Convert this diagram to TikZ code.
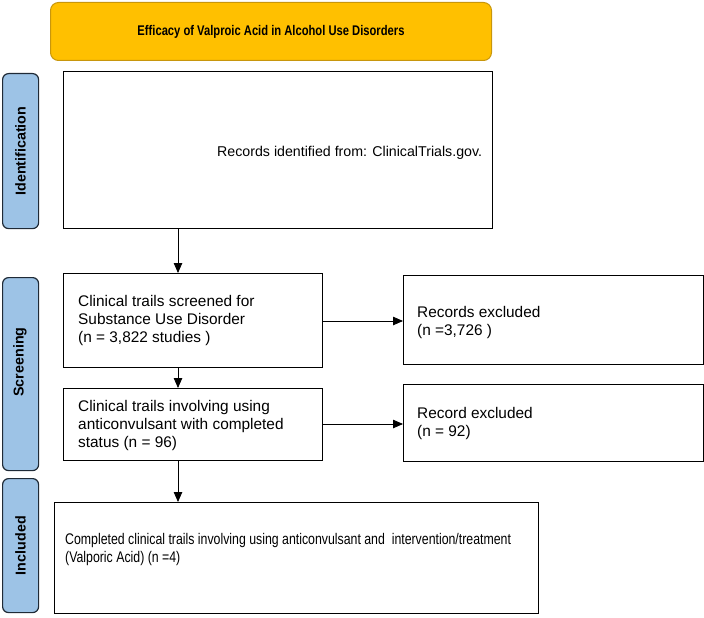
\documentclass[tikz,border=0pt]{standalone}
\usepackage{fontspec}
\setmainfont{Liberation Sans}
\newfontfamily\narrowfont[FakeStretch=0.8]{Liberation Sans}
\usetikzlibrary{arrows.meta,positioning}
\definecolor{titlefill}{HTML}{FFC000}
\definecolor{titledraw}{HTML}{C8960C}
\definecolor{sidefill}{HTML}{9DC3E6}
\definecolor{sidedraw}{HTML}{1F2A36}
\tikzset{
  box/.style={draw=black, line width=1.2pt, anchor=north west, inner sep=0pt},
  side/.style={draw=sidedraw, fill=sidefill, line width=1.2pt, rounded corners=6pt, anchor=north west, inner sep=0pt},
  sidetxt/.style={font=\bfseries\fontsize{14.3}{16}\selectfont, rotate=90},
  txt/.style={anchor=west, align=left, inner sep=0pt, font=\fontsize{15.4}{18}\selectfont},
  arr/.style={-{Triangle[length=10pt,width=8.5pt]}, line width=0.8pt}
}
\begin{document}
\begin{tikzpicture}[x=1pt,y=-1pt]
\useasboundingbox (0,0) rectangle (704,618);
% title
\node[draw=titledraw, fill=titlefill, line width=1pt, rounded corners=8pt, anchor=north west, minimum width=441pt, minimum height=58pt, inner sep=0pt] (title) at (50,2) {};
\node[font=\narrowfont\bfseries\fontsize{14}{16}\selectfont] (titletxt) at (title.center) {Efficacy of Valproic Acid in Alcohol Use Disorders};
% side bars
\node[side, minimum width=36pt, minimum height=155pt] (sid) at (2,73) {};
\node[sidetxt] (sidt) at (sid.center) {Identification};
\node[side, minimum width=36pt, minimum height=193pt] (ssc) at (2,277) {};
\node[sidetxt] (ssct) at (20,362) {Screening};
\node[side, minimum width=36pt, minimum height=134pt] (sin) at (2,478) {};
\node[sidetxt] (sint) at (sin.center) {Included};
% boxes
\node[box, minimum width=429pt, minimum height=157pt] (ident) at (63,71) {};
\node[txt, font=\fontsize{14.2}{17}\selectfont] (identt) at (217,153) {Records identified from: ClinicalTrials.gov.};
\node[box, minimum width=259pt, minimum height=94pt] (scr1) at (63,273) {};
\node[txt] (scr1t) at (78,321) {Clinical trails screened for\\Substance Use Disorder\\(n = 3,822 studies )};
\node[box, minimum width=300pt, minimum height=89pt] (ex1) at (403,275) {};
\node[txt] (ex1t) at (417,323) {Records excluded\\(n =3,726 )};
\node[box, minimum width=259pt, minimum height=72pt] (scr2) at (63,388) {};
\node[txt] (scr2t) at (78,426) {Clinical trails involving using\\anticonvulsant with completed\\status (n = 96)};
\node[box, minimum width=300pt, minimum height=77pt] (ex2) at (403,384) {};
\node[txt] (ex2t) at (417,424) {Record excluded\\(n = 92)};
\node[box, minimum width=484pt, minimum height=111pt] (incl) at (54,502) {};
\node[txt, font=\narrowfont\fontsize{15.4}{18}\selectfont] (inclt) at (65,550) {Completed clinical trails involving using anticonvulsant and\ \ intervention/treatment\\(Valporic Acid) (n =4)};
% arrows
\draw[arr] (ident.south -| 178,0) -- (scr1.north -| 178,0);
\draw[arr] (scr1.south -| 178,0) -- (scr2.north -| 178,0);
\draw[arr] (scr2.south -| 178,0) -- (incl.north -| 178,0);
\draw[arr] (scr1.east |- 0,321) -- (ex1.west |- 0,321);
\draw[arr] (scr2.east |- 0,424) -- (ex2.west |- 0,424);
\end{tikzpicture}
\end{document}
